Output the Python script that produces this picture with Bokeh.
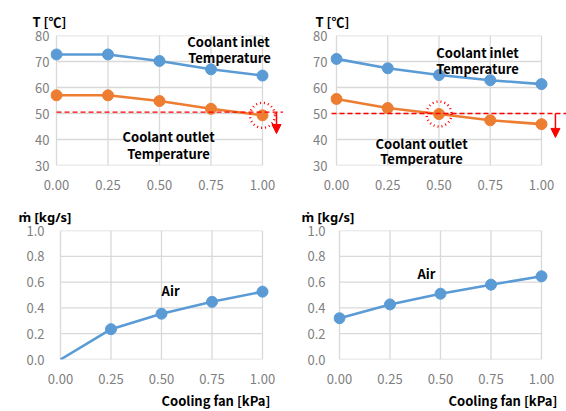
from bokeh.plotting import figure
from bokeh.layouts import column, row
from bokeh.models import Range1d, Label, Arrow, NormalHead, FixedTicker, Title
from bokeh.embed import file_html
from bokeh.resources import INLINE

# ---- data ----
fan = [0.0, 0.25, 0.5, 0.75, 1.0]
x_ticks = [0.0, 0.25, 0.5, 0.75, 1.0]
t_ticks = [30, 40, 50, 60, 70, 80]
m_ticks = [0.0, 0.2, 0.4, 0.6, 0.8, 1.0]

inlet_a = [72.7, 72.7, 70.2, 67.0, 64.6]
outlet_a = [57.0, 57.0, 54.8, 51.8, 49.3]
inlet_b = [71.0, 67.4, 64.8, 62.8, 61.3]
outlet_b = [55.6, 52.1, 49.8, 47.4, 45.9]
air_a = [0.0, 0.235, 0.355, 0.447, 0.526]
air_b = [0.32, 0.427, 0.51, 0.58, 0.645]
limit_a = 50.5
limit_b = 50.0
circle_idx_a = 4
circle_idx_b = 2

t_label = "T [℃]"
m_label = "ṁ [kg/s]"
x_label = "Cooling fan [kPa]"

BLUE = "#5B9BD5"
ORANGE = "#ED7D31"
RED = "#FF0000"
GRID = "#D9D9D9"
TICK = "#808080"
FONT = "Noto Sans CJK KR"
MFONT = "Noto Sans"


def make_fig(w, h, xr, yr, ml, mt, mb, yticks, ystand, yfmt, title, title_off, title_font):
    p = figure(width=w, height=h, x_range=Range1d(*xr), y_range=Range1d(*yr),
               output_backend="svg", toolbar_location=None,
               min_border_left=ml, min_border_right=0,
               min_border_top=mt, min_border_bottom=mb)
    p.outline_line_color = None
    p.xgrid.visible = False
    p.ygrid.visible = False
    p.background_fill_color = "white"
    p.border_fill_color = "white"
    ylo, yhi = yticks[0], yticks[-1]
    p.segment(x0=x_ticks, y0=[ylo] * len(x_ticks), x1=x_ticks, y1=[yhi] * len(x_ticks),
              line_color=GRID, line_width=1.3)
    p.segment(x0=[x_ticks[0]] * len(yticks), y0=yticks, x1=[x_ticks[-1]] * len(yticks), y1=yticks,
              line_color=GRID, line_width=1.3)
    for ax in (p.xaxis[0], p.yaxis[0]):
        ax.axis_line_color = None
        ax.major_tick_line_color = None
        ax.minor_tick_line_color = None
        ax.major_tick_out = 0
        ax.major_tick_in = 0
        ax.major_label_text_color = TICK
        ax.major_label_text_font = FONT
        ax.major_label_text_font_size = "13px"
    p.xaxis.ticker = FixedTicker(ticks=x_ticks)
    p.xaxis.major_label_overrides = {t: f"{t:.2f}" for t in x_ticks}
    p.xaxis.major_label_standoff = 14
    p.yaxis.ticker = FixedTicker(ticks=yticks)
    p.yaxis.major_label_overrides = {t: yfmt(t) for t in yticks}
    p.yaxis.major_label_standoff = ystand
    p.title.text = title
    p.title.align = "left"
    p.title.offset = title_off
    p.title.standoff = 10
    p.title.text_font = title_font
    p.title.text_font_style = "bold"
    p.title.text_font_size = "13px"
    p.title.text_color = "black"
    return p


def add_xlabel(p, off):
    p.add_layout(Title(text=x_label, align="left", offset=off, standoff=4,
                       text_font=FONT, text_font_style="bold",
                       text_font_size="13px", text_color="black"), "below")


def bold_text(p, x, y, txt, size="13px"):
    p.add_layout(Label(x=x, y=y, text=txt, text_font=FONT, text_font_style="bold",
                       text_font_size=size, text_align="center", text_baseline="middle",
                       text_color="black"))


def series(p, ys, color, marker_from=0):
    p.line(fan, ys, line_color=color, line_width=2.6)
    p.scatter(fan[marker_from:], ys[marker_from:], size=11, fill_color=color,
              line_color=color, marker="circle")


def limit_marks(p, limit, x0, idx, outlet, arrow_x, arrow_y_end):
    p.segment(x0=[x0], y0=[limit], x1=[2.0], y1=[limit], line_color=RED,
              line_width=1.3, line_dash="5 3")
    p.scatter([fan[idx]], [outlet[idx]], size=25, fill_color=None, line_color=RED,
              line_width=2.4, line_dash="1 3", marker="circle")
    p.add_layout(Arrow(x_start=arrow_x, y_start=limit, x_end=arrow_x, y_end=arrow_y_end,
                       line_color=RED, line_width=1.5,
                       end=NormalHead(size=9, fill_color=RED, line_color=RED)))


tfmt = lambda t: f"{t:d}"
mfmt = lambda t: f"{t:.1f}"

# top-left
p1 = make_fig(283, 197, (-6 / 206, 1 + 21 / 206), (30, 80), 50, 35, 32,
              t_ticks, 1, tfmt, t_label, -18, FONT)
series(p1, inlet_a, BLUE)
series(p1, outlet_a, ORANGE)
limit_marks(p1, limit_a, 0.0, circle_idx_a, outlet_a, 1.068, 42.3)
bold_text(p1, 0.835, 77.8, "Coolant inlet")
bold_text(p1, 0.840, 71.65, "Temperature")
bold_text(p1, 0.544, 41.15, "Coolant outlet")
bold_text(p1, 0.544, 34.6, "Temperature")

# top-right
p2 = make_fig(283, 197, (-6 / 205, 1 + 25 / 205), (30, 80), 47, 35, 32,
              t_ticks, 3, tfmt, t_label, -15, FONT)
series(p2, inlet_b, BLUE)
series(p2, outlet_b, ORANGE)
limit_marks(p2, limit_b, -1.0, circle_idx_b, outlet_b, 1.068, 40.8)
bold_text(p2, 0.688, 73.6, "Coolant inlet")
bold_text(p2, 0.688, 67.4, "Temperature")
bold_text(p2, 0.415, 38.6, "Coolant outlet")
bold_text(p2, 0.415, 32.6, "Temperature")

# bottom-left
p3 = make_fig(283, 214, (-6 / 202, 1 + 21 / 202), (0, 1), 54, 33, 50,
              m_ticks, 10, mfmt, m_label, -36, MFONT)
series(p3, air_a, BLUE, marker_from=1)
bold_text(p3, 0.545, 0.533, "Air")
add_xlabel(p3, 107)

# bottom-right
p4 = make_fig(283, 214, (-6 / 202, 1 + 25 / 202), (0, 1), 50, 32, 51,
              m_ticks, 8, mfmt, m_label, -32, MFONT)
series(p4, air_b, BLUE)
bold_text(p4, 0.43, 0.664, "Air")
add_xlabel(p4, 115)

layout = column(row(p1, p2, spacing=0), row(p3, p4, spacing=0), spacing=0)
open("out.html", "w").write(file_html(layout, INLINE))
